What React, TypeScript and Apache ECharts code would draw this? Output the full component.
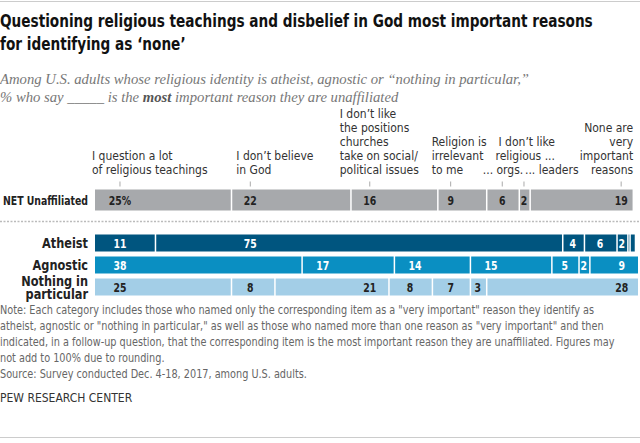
import { useEffect, useRef } from "react";
import * as echarts from "echarts";

const netRow = ["NET Unaffiliated"];
const groupRows = ["Atheist", "Agnostic", "Nothing in\nparticular"];

const reasons = [
  "I question a lot\nof religious teachings",
  "I don’t believe\nin God",
  "I don’t like\nthe positions\nchurches\ntake on social/\npolitical issues",
  "Religion is\nirrelevant\nto me",
  "... orgs.",
  "... leaders",
  "None are\nvery\nimportant\nreasons",
];
const sharedReason = "I don’t like\nreligious ...";

const netValues = [25, 22, 16, 9, 6, 2, 19];
const atheistValues = [11, 75, 4, 6, 2, 0.4, 1];
const agnosticValues = [38, 17, 14, 15, 5, 2, 9];
const nothingValues = [25, 8, 21, 8, 7, 3, 28];

// where each column's number sits when its segment has room (in % units)
const labelAnchors = [4.6, 28.6, 50.6, 65.5, 75, 79.5, 97];

const COND = "'DejaVu Sans Condensed', 'DejaVu Sans', sans-serif";
const SERIF = "'Liberation Serif', 'DejaVu Serif', serif";

const NET_COLOR = "#a7a9ac";
const ROW_COLORS = ["#00557f", "#0a8fc2", "#a3cee7"];
const ROW_TEXT = ["#ffffff", "#ffffff", "#222222"];

const NUM_SCALE = 0.8;

const headerPlace = [
  { align: "left", dx: -28 },
  { align: "left", dx: -14 },
  { align: "left", dx: -30 },
  { align: "left", dx: -19 },
  { align: "right", dx: 21 },
  { align: "left", dx: 1 },
  { align: "right", dx: 12 },
];

function toCells(values: number[], row: number) {
  let cum = 0;
  return values.map((v, i) => {
    const item = [row, cum, cum + v, v, i];
    cum += v;
    return item;
  });
}

function numWidth(s: string) {
  return s.length * 8 * NUM_SCALE;
}

function squeezed(text: string, x: number, y: number, scale: number, style: any) {
  return {
    type: "text",
    x,
    y,
    scaleX: scale,
    style: { text, x: 0, y: 0, ...style },
  };
}

function cellRenderer(isNet: boolean, barH: number, rowNames: string[]) {
  return (_params: any, api: any) => {
    const row = api.value(0);
    const start = api.value(1);
    const end = api.value(2);
    const v = api.value(3);
    const col = api.value(4);
    const a = api.coord([start, row]);
    const b = api.coord([end, row]);
    const fill = isNet ? NET_COLOR : ROW_COLORS[row];
    const textFill = isNet ? "#222" : ROW_TEXT[row];
    const x0 = start > 0 ? a[0] + 1.5 : a[0];
    const children: any[] = [
      {
        type: "rect",
        shape: { x: x0, y: a[1] - barH / 2, width: Math.max(b[0] - x0, 0), height: barH },
        style: { fill },
      },
    ];
    if (col === 0) {
      children.push(
        squeezed(rowNames[row], a[0] - 7, a[1] + 0.5, isNet ? 0.8 : 0.9, {
          align: "right",
          verticalAlign: "middle",
          lineHeight: 13,
          fill: "#222",
          font: `bold ${isNet ? 13 : 14}px ${COND}`,
        })
      );
    }
    const text = isNet && col === 0 ? `${v}%` : String(v);
    const tw = numWidth(text);
    const segW = b[0] - a[0];
    let cx = (a[0] + b[0]) / 2;
    if (segW >= tw + 3) {
      const anchor = api.coord([labelAnchors[col], row])[0];
      const lo = a[0] + 8 + tw / 2;
      const hi = b[0] - 8 - tw / 2;
      if (anchor >= lo && anchor <= hi) cx = anchor;
      else if (segW >= 60) {
        cx = anchor < lo ? a[0] + 15 + tw / 2 : b[0] - 5 - tw / 2;
      }
      children.push(
        squeezed(text, cx, a[1] + 0.5, NUM_SCALE, {
          align: "center",
          verticalAlign: "middle",
          fill: textFill,
          font: `bold 13px ${COND}`,
        })
      );
    }
    if (isNet) {
      const top = a[1] - barH / 2;
      children.push({
        type: "line",
        shape: { x1: cx, y1: top - 8, x2: cx, y2: top - 3 },
        style: { stroke: "#aaa", lineWidth: 1 },
      });
      const place = headerPlace[col];
      children.push({
        type: "text",
        style: {
          text: reasons[col],
          x: cx + place.dx,
          y: top - 12.5,
          align: place.align,
          verticalAlign: "bottom",
          lineHeight: 14,
          fill: "#333",
          font: `12px ${COND}`,
        },
      });
      if (col === 5) {
        children.push({
          type: "text",
          style: {
            text: sharedReason,
            x: cx + 31,
            y: top - 26.5,
            align: "right",
            verticalAlign: "bottom",
            lineHeight: 14,
            fill: "#333",
            font: `12px ${COND}`,
          },
        });
      }
    }
    return { type: "group", children };
  };
}

const noteLines = [
  'Note: Each category includes those who named only the corresponding item as a "very important" reason they identify as',
  'atheist, agnostic or "nothing in particular," as well as those who named more than one reason as "very important" and then',
  "indicated, in a follow-up question, that the corresponding item is the most important reason they are unaffiliated. Figures may",
  "not add to 100% due to rounding.",
  "Source: Survey conducted Dec. 4-18, 2017, among U.S. adults.",
];

export default function App() {
  const ref = useRef<HTMLDivElement | null>(null);

  useEffect(() => {
    if (!ref.current) return;
    const chart = echarts.init(ref.current, undefined, { renderer: "svg" });
    const hiddenY = {
      type: "category",
      inverse: true,
      axisLine: { show: false },
      axisTick: { show: false },
      axisLabel: { show: false },
    };
    chart.setOption({
      animation: false,
      grid: [
        { left: 95, right: 2, top: 189, height: 22, outerBoundsMode: "none", containLabel: false },
        { left: 95, right: 2, top: 232, height: 66, outerBoundsMode: "none", containLabel: false },
      ],
      xAxis: [
        { type: "value", gridIndex: 0, min: 0, max: 100, show: false },
        { type: "value", gridIndex: 1, min: 0, max: 100, show: false },
      ],
      yAxis: [
        { ...hiddenY, gridIndex: 0, data: netRow },
        { ...hiddenY, gridIndex: 1, data: groupRows },
      ],
      series: [
        {
          type: "custom",
          xAxisIndex: 0,
          yAxisIndex: 0,
          clip: false,
          renderItem: cellRenderer(true, 21, netRow),
          data: toCells(netValues, 0),
        },
        {
          type: "custom",
          xAxisIndex: 1,
          yAxisIndex: 1,
          clip: false,
          renderItem: cellRenderer(false, 17, groupRows),
          data: [
            ...toCells(atheistValues, 0),
            ...toCells(agnosticValues, 1),
            ...toCells(nothingValues, 2),
          ],
        },
      ],
      graphic: [
        { type: "line", shape: { x1: 0, y1: 1.5, x2: 640, y2: 1.5 }, style: { stroke: "#ccc", lineWidth: 1 } },
        {
          type: "text",
          x: 0,
          y: 9,
          scaleX: 0.82,
          style: {
            text: "Questioning religious teachings and disbelief in God most important reasons\nfor identifying as ‘none’",
            font: `bold 18.5px ${COND}`,
            lineHeight: 23,
            fill: "#111",
          },
        },
        {
          type: "text",
          x: 0,
          y: 70,
          style: {
            text: "{i|Among U.S. adults whose religious identity is atheist, agnostic or “nothing in particular,”}\n{i|% who say _____ is the }{b|most}{i| important reason they are unaffiliated}",
            rich: {
              i: { font: `italic 14.7px ${SERIF}`, fill: "#777", lineHeight: 18 },
              b: { font: `italic bold 14.7px ${SERIF}`, fill: "#555", lineHeight: 18 },
            },
          },
        },
        {
          type: "line",
          shape: { x1: 0, y1: 221.5, x2: 640, y2: 221.5 },
          style: { stroke: "#bbb", lineWidth: 1.5, lineDash: [2, 1.5] },
        },
        {
          type: "text",
          x: 0,
          y: 302,
          scaleX: 0.9,
          style: { text: noteLines.join("\n"), font: `12px ${COND}`, fill: "#666", lineHeight: 16 },
        },
        {
          type: "text",
          x: 0,
          y: 392,
          style: { text: "PEW RESEARCH CENTER", font: `12px ${COND}`, fill: "#333" },
        },
        { type: "line", shape: { x1: 0, y1: 437.5, x2: 640, y2: 437.5 }, style: { stroke: "#ccc", lineWidth: 1 } },
      ],
    });
    return () => chart.dispose();
  }, []);

  return (
    <div
      ref={ref}
      style={{ position: "fixed", left: 0, top: 0, width: 640, height: 443, background: "#fff" }}
    />
  );
}
